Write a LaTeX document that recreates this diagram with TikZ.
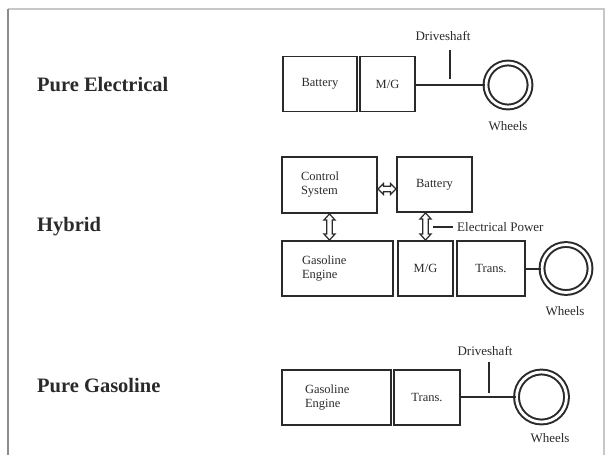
\documentclass[tikz,border=0pt]{standalone}
\usepackage{fontspec}
\setmainfont{Liberation Serif}
\usetikzlibrary{calc}
\definecolor{ink}{HTML}{2A2A2A}
\newcommand\myharr[2]{%
  \draw[hollowarr] (#1) -- ($(#1)+(5.5,-5.5)$) -- ($(#1)+(5.5,-2.8)$) -- ($(#2)+(-5.5,-2.8)$) -- ($(#2)+(-5.5,-5.5)$) -- (#2)
   -- ($(#2)+(-5.5,5.5)$) -- ($(#2)+(-5.5,2.8)$) -- ($(#1)+(5.5,2.8)$) -- ($(#1)+(5.5,5.5)$) -- cycle;}
\newcommand\myvarr[2]{%
  \draw[hollowarr] (#1) -- ($(#1)+(-5.5,6)$) -- ($(#1)+(-2.8,6)$) -- ($(#2)+(-2.8,-6)$) -- ($(#2)+(-5.5,-6)$) -- (#2)
   -- ($(#2)+(5.5,-6)$) -- ($(#2)+(2.8,-6)$) -- ($(#1)+(2.8,6)$) -- ($(#1)+(5.5,6)$) -- cycle;}
\begin{document}
\begin{tikzpicture}[x=1pt,y=-1pt,
  blk/.style={draw=ink,line width=1.9pt,inner sep=0pt,font=\fontsize{12.5}{14}\selectfont,text=ink},
  ttl/.style={font=\fontsize{20.5}{23}\selectfont\bfseries,text=ink,anchor=base west,inner sep=0pt},
  lbl/.style={font=\fontsize{13}{14}\selectfont,text=ink,inner sep=0pt},
  whl/.style={circle,draw=ink,line width=2pt,double,double distance=2.8pt,inner sep=0pt},
  shaft/.style={draw=ink,line width=2pt},
  tick/.style={draw=ink,line width=1.2pt},
  hollowarr/.style={draw=ink,fill=white,line width=1.2pt,line join=miter}]
\useasboundingbox (0,0) rectangle (609,455);
% frame
\draw[color=black!22,line width=1.2pt] (8,9) -- (604,9) -- (604,455);
\draw[color=black!45,line width=2pt] (8,9) -- (8,455);

% titles
\node[ttl] (t1) at (37,91) {Pure Electrical};
\node[ttl] (t2) at (37,231) {Hybrid};
\node[ttl] (t3) at (37,392) {Pure Gasoline};

% Pure electrical
\node[blk,minimum width=74,minimum height=55] (bat1) at (320,84) {Battery};
\node[blk,minimum width=55,minimum height=55] (mg1) at (387.5,84) {M/G};
\node[whl,minimum size=44] (w1) at (508,85) {};
\draw[shaft] (mg1.east |- w1) -- (w1.west);
\coordinate (d1a) at (450,50);
\coordinate (d1b) at (450,79);
\draw[tick] (d1a) -- (d1b);
\node[lbl] (ds1) at (443,36) {Driveshaft};
\node[lbl] (wl1) at (508,126) {Wheels};

% Hybrid
\node[blk,minimum width=95,minimum height=56,align=left,text width=57,inner xsep=19pt] (ctrl) at (329.5,185) {Control\\System};
\node[blk,minimum width=75,minimum height=55] (bat2) at (434.5,184.5) {Battery};
\node[blk,minimum width=111,minimum height=55,align=left,text width=71,inner xsep=20pt] (gas2) at (337.5,268.5) {Gasoline\\Engine};
\node[blk,minimum width=55,minimum height=55] (mg2) at (425.5,268.5) {M/G};
\node[blk,minimum width=68,minimum height=55] (tr2) at (491,268.5) {Trans.};
\node[whl,minimum size=48] (w2) at (566,268.5) {};
\draw[shaft] (tr2.east) -- (w2.west);
\coordinate (ha) at ([yshift=-4pt]ctrl.east);
\coordinate (hb) at (ha -| bat2.west);
\myharr{ha}{hb}
\coordinate (va) at (ctrl.south);
\coordinate (vb) at (va |- gas2.north);
\myvarr{va}{vb}
\coordinate (ma) at (mg2.north |- bat2.south);
\coordinate (mb) at (mg2.north);
\myvarr{ma}{mb}
\coordinate (ep1) at (433,227);
\node[lbl,anchor=west] (ep) at (457,227) {Electrical Power};
\draw[tick] (ep1) -- ([xshift=-4pt]ep.west);
\node[lbl] (wl2) at (565,311) {Wheels};

% Pure gasoline
\node[blk,minimum width=109,minimum height=55,align=left,text width=63,inner xsep=23pt] (gas3) at (336.5,397.5) {Gasoline\\Engine};
\node[blk,minimum width=66,minimum height=55] (tr3) at (427,397.5) {Trans.};
\node[whl,minimum size=50] (w3) at (541.5,397) {};
\draw[shaft] (tr3.east |- w3) -- (w3.west);
\coordinate (d3a) at (489,362);
\coordinate (d3b) at (489,393);
\draw[tick] (d3a) -- (d3b);
\node[lbl] (ds3) at (485,351) {Driveshaft};
\node[lbl] (wl3) at (550,438) {Wheels};
\end{tikzpicture}
\end{document}
